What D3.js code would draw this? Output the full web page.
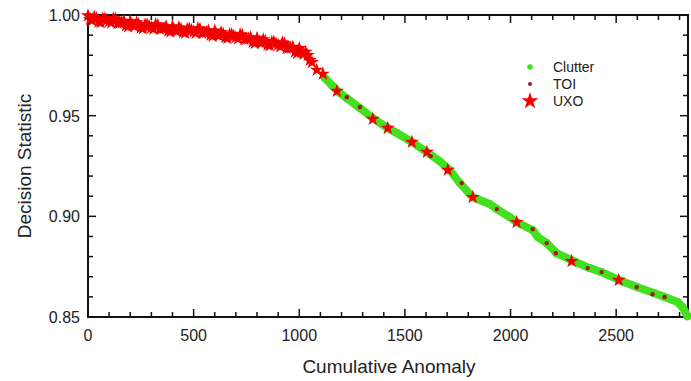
<!DOCTYPE html>
<html><head><meta charset="utf-8">
<script src="https://cdn.jsdelivr.net/npm/d3@7"></script>
<style>body{margin:0;background:#fff}svg{display:block}text{font-family:"Liberation Sans",Arial,sans-serif;fill:#222}</style>
</head><body>
<svg id="c" width="691" height="381"></svg>
<script>
// UXO stars forming the dense band at the top (cumulative anomaly, decision statistic)
const bandX = [0,10,20,30,40,50,60,70,80,90,100,110,120,130,140,150,160,170,180,190,200,210,220,230,240,250,260,270,280,290,300,310,320,330,340,350,360,370,380,390,400,410,420,430,440,450,460,470,480,490,500,510,520,530,540,550,560,570,580,590,600,610,620,630,640,650,660,670,680,690,700,710,720,730,740,750,760,770,780,790,800,810,820,830,840,850,860,870,880,890,900,910,920,930,940,950,960,970,980,990,1000,1010,1020,1030,1040,1050,1060];
const bandY = [.9997,.9979,.9973,.9990,.9983,.9966,.9963,.9982,.9982,.9975,.9968,.9962,.9983,.9980,.9959,.9961,.9963,.9970,.9948,.9943,.9968,.9950,.9944,.9962,.9954,.9937,.9933,.9952,.9952,.9944,.9937,.9931,.9953,.9950,.9930,.9933,.9935,.9943,.9922,.9917,.9943,.9925,.9920,.9938,.9931,.9914,.9911,.9930,.9931,.9924,.9917,.9911,.9933,.9930,.9910,.9913,.9915,.9922,.9901,.9896,.9921,.9903,.9897,.9914,.9906,.9889,.9885,.9903,.9903,.9896,.9889,.9882,.9903,.9900,.9879,.9881,.9882,.9888,.9866,.9860,.9885,.9867,.9861,.9878,.9870,.9852,.9848,.9866,.9866,.9858,.9851,.9843,.9863,.9858,.9835,.9836,.9836,.9841,.9817,.9810,.9834,.9814,.9806,.9816,.9800,.9776,.9765];
// UXO stars further down the curve
const uxoX = [1083,1112,1178,1348,1419,1533,1604,1703,1821,2029,2289,2512];
const uxoY = [.9727,.9707,.9622,.9483,.9438,.9369,.9319,.9230,.9095,.8971,.8777,.8683];
// Clutter curve
const clutX = [1121,1154,1192,1225,1287,1348,1419,1462,1533,1604,1665,1712,1760,1821,1901,1935,1996,2029,2105,2129,2171,2218,2289,2374,2431,2516,2601,2682,2729,2791,2814,2838];
const clutY = [.9687,.9652,.9612,.9587,.9538,.9488,.9438,.9414,.9369,.9319,.9274,.9230,.9165,.9095,.9061,.9036,.8996,.8971,.8931,.8897,.8867,.8817,.8782,.8743,.8723,.8683,.8648,.8618,.8599,.8574,.8549,.8504];
// TOI points
const toiX = [1225,1287,1622,1769,1935,2105,2171,2214,2365,2431,2597,2672,2729];
const toiY = [.9592,.9543,.9299,.9165,.9036,.8936,.8867,.8817,.8743,.8723,.8648,.8613,.8599];
const xMajor = [0,500,1000,1500,2000,2500];
const yMajor = [0.85,0.90,0.95,1.00];
const legendLabels = ["Clutter","TOI","UXO"];

const svg = d3.select("#c");
const L=88,R=688,T=15,B=317;
const x = d3.scaleLinear().domain([0,2840]).range([L,R]);
const y = d3.scaleLinear().domain([0.85,1.00]).range([B,T]);
const xMinor = d3.range(0,2801,100);
const yMinor = d3.range(85,101,1).map(d=>d/100);

const ax = svg.append("g");
ax.append("rect").attr("x",L).attr("y",T).attr("width",R-L).attr("height",B-T)
  .attr("fill","none").attr("stroke","#111").attr("stroke-width",2);
const isMajX = d=>d%500===0, isMajY = d=>Math.round(d*100)%5===0;
xMinor.forEach(d=>{
  const l = isMajX(d)?8:5;
  ax.append("line").attr("x1",x(d)).attr("x2",x(d)).attr("y1",B).attr("y2",B-l).attr("stroke","#111").attr("stroke-width",1.5);
  ax.append("line").attr("x1",x(d)).attr("x2",x(d)).attr("y1",T).attr("y2",T+l).attr("stroke","#111").attr("stroke-width",1.5);
});
yMinor.forEach(d=>{
  const l = isMajY(d)?8:5;
  ax.append("line").attr("x1",L).attr("x2",L+l).attr("y1",y(d)).attr("y2",y(d)).attr("stroke","#111").attr("stroke-width",1.5);
  ax.append("line").attr("x1",R).attr("x2",R-l).attr("y1",y(d)).attr("y2",y(d)).attr("stroke","#111").attr("stroke-width",1.5);
});
xMajor.forEach(d=>{
  ax.append("text").attr("x",x(d)).attr("y",341).attr("text-anchor","middle").attr("font-size",16).text(d);
});
yMajor.forEach(d=>{
  ax.append("text").attr("x",80).attr("y",y(d)+6).attr("text-anchor","end").attr("font-size",16).text(d3.format(".2f")(d));
});
ax.append("text").attr("x",389).attr("y",373).attr("text-anchor","middle").attr("font-size",19).text("Cumulative Anomaly");
ax.append("text").attr("transform","translate(31,166) rotate(-90)").attr("text-anchor","middle").attr("font-size",19).text("Decision Statistic");

const star = d3.symbol().type(d3.symbolStar).size(62);
const red="#f20000", green="#44e020", toiC="#a01818";

svg.append("g").selectAll("path").data(bandX.map((v,i)=>[v,bandY[i]])).join("path")
  .attr("d",star).attr("transform",d=>`translate(${x(d[0])},${y(d[1])})`).attr("fill",red);

const cl = clutX.map((v,i)=>[v,clutY[i]]);
svg.append("path").datum(cl).attr("d",d3.line().x(d=>x(d[0])).y(d=>y(d[1])))
  .attr("fill","none").attr("stroke",green).attr("stroke-width",8).attr("stroke-linecap","round").attr("stroke-linejoin","round");
svg.append("g").selectAll("circle").data(cl).join("circle")
  .attr("cx",d=>x(d[0])).attr("cy",d=>y(d[1])).attr("r",4).attr("fill",green);

svg.append("g").selectAll("circle").data(toiX.map((v,i)=>[v,toiY[i]])).join("circle")
  .attr("cx",d=>x(d[0])).attr("cy",d=>y(d[1])).attr("r",2.2).attr("fill",toiC);

svg.append("g").selectAll("path").data(uxoX.map((v,i)=>[v,uxoY[i]])).join("path")
  .attr("d",star).attr("transform",d=>`translate(${x(d[0])},${y(d[1])})`).attr("fill",red);

const lg = svg.append("g");
lg.append("circle").attr("cx",530).attr("cy",67).attr("r",2.8).attr("fill",green);
lg.append("circle").attr("cx",530).attr("cy",84).attr("r",2).attr("fill",toiC);
lg.append("path").attr("d",d3.symbol().type(d3.symbolStar).size(90)).attr("transform","translate(530,101)").attr("fill",red);
legendLabels.forEach((t,i)=>{
  lg.append("text").attr("x",553).attr("y",72+i*17).attr("font-size",14).text(t);
});
</script>
</body></html>
